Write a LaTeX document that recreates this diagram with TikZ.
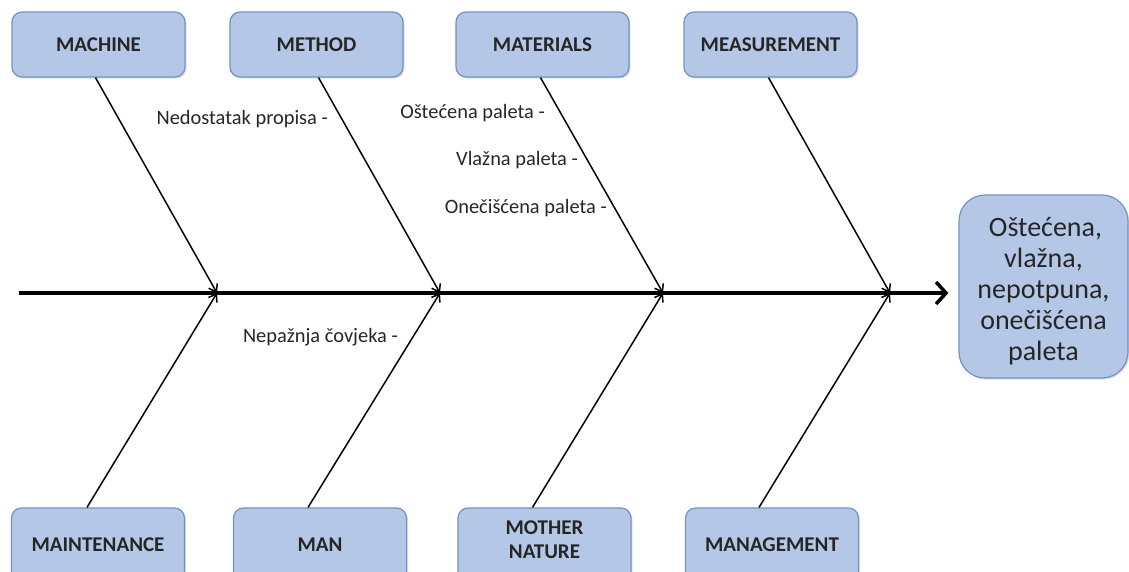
\documentclass[tikz,border=0pt]{standalone}
\usepackage{fontspec}
\setmainfont{Carlito}
\usetikzlibrary{arrows.meta,shadows}
\definecolor{boxfill}{HTML}{B4C7E7}
\definecolor{boxdraw}{HTML}{7393C6}
\begin{document}
\begin{tikzpicture}[x=1pt,y=-1pt,
  catbox/.style={draw=boxdraw,line width=1.2pt,fill=boxfill,rounded corners=10pt,
    minimum width=173pt,minimum height=65pt,align=center,
    font=\fontsize{21}{24}\selectfont\bfseries,text=black!85,
    drop shadow={opacity=0.25,shadow xshift=1.5pt,shadow yshift=-1.5pt}},
  lowbox/.style={catbox,minimum height=74pt},
  effbox/.style={draw=boxdraw,line width=1.2pt,fill=boxfill,rounded corners=26pt,
    minimum width=169pt,minimum height=183pt,align=center,
    font=\fontsize{28}{31}\selectfont,text=black!85,
    drop shadow={opacity=0.25,shadow xshift=1.5pt,shadow yshift=-1.5pt}},
  bone/.style={line width=1.5pt,-{Straight Barb[length=7pt,width=10pt,line width=1.5pt]}},
  spine/.style={line width=3.5pt,-{Straight Barb[length=10pt,width=22pt,line width=3.5pt]}},
  lbl/.style={font=\fontsize{20.4}{22}\selectfont,text=black!85,inner sep=0pt,anchor=east}]
\useasboundingbox (0,0) rectangle (1129,571);
\fill[white] (0,0) rectangle (1129,571);
% top boxes
\node[catbox] (machine) at (98.5,44.5) {MACHINE};
\node[catbox] (method) at (316.5,44.5) {METHOD};
\node[catbox] (materials) at (542.5,44.5) {MATERIALS};
\node[catbox] (measure) at (770.5,44.5) {MEASUREMENT};
% bottom boxes
\node[lowbox] (maint) at (98,545) {MAINTENANCE};
\node[lowbox] (man) at (320,545) {MAN};
\node[lowbox] (nature) at (544.5,545) {\raisebox{3pt}[\height][\depth]{\begin{tabular}{@{}c@{}}MOTHER\\NATURE\end{tabular}}};
\node[lowbox] (manage) at (772,545) {MANAGEMENT};
% effect
\node[effbox] (effect) at (1043.5,286.5) {\raisebox{-6pt}[\height][\depth]{\begin{tabular}{@{}c@{}}\hspace{4pt}Oštećena,\\vlažna,\\nepotpuna,\\onečišćena\\paleta\end{tabular}}};
% joints
\coordinate (s0) at (19,293);
\coordinate (j1) at (217,293);
\coordinate (j2) at (440,293);
\coordinate (j3) at (663,293);
\coordinate (j4) at (890,293);
% spine
\draw[spine,shorten >=10pt] (s0) -- (s0 -| effect.west);
% bones
\draw[bone] ([xshift=-3pt]machine.south) -- (j1);
\draw[bone] ([xshift=2pt]method.south) -- (j2);
\draw[bone] ([xshift=-2pt]materials.south) -- (j3);
\draw[bone] ([xshift=-2pt]measure.south) -- (j4);
\draw[bone] ([xshift=-11pt]maint.north) -- (j1);
\draw[bone] ([xshift=-12pt]man.north) -- (j2);
\draw[bone] ([xshift=-12pt]nature.north) -- (j3);
\draw[bone] ([xshift=-13pt]manage.north) -- (j4);
% labels
\node[lbl] (l1) at (328,119) {Nedostatak propisa -};
\node[lbl] (l2) at (545,113) {Oštećena paleta -};
\node[lbl] (l3) at (578,160) {Vlažna paleta -};
\node[lbl] (l4) at (607,208) {Onečišćena paleta -};
\node[lbl] (l5) at (398,337) {Nepažnja čovjeka -};
\end{tikzpicture}
\end{document}
